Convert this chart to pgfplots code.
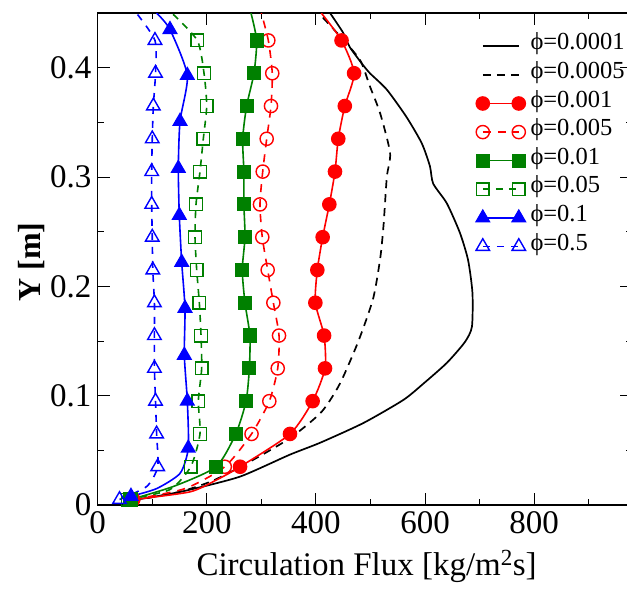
\documentclass[border=0pt]{standalone}
\usepackage{fontspec}
\setmainfont{Liberation Serif}
\usepackage{pgfplots}
\pgfplotsset{compat=1.18}

\definecolor{fred}{RGB}{255,0,0}
\definecolor{fgreen}{RGB}{0,128,0}
\definecolor{fblue}{RGB}{0,0,255}

\begin{document}
\begin{tikzpicture}
\begin{axis}[
  scale only axis,
  width=534.6pt, height=491.9pt,
  xmin=0, xmax=980, ymin=0, ymax=0.45,
  xtick={0,200,400,600,800},
  minor xtick={100,300,500,700,900},
  ytick={0,0.1,0.2,0.3,0.4},
  minor ytick={0.05,0.15,0.25,0.35},
  tick align=inside,
  major tick length=12pt, minor tick length=6pt,
  every tick/.style={black, line width=1pt},
  axis line style={line width=1.5pt},
  /pgf/number format/assume math mode=true,
  tick label style={font=\fontsize{33}{40}\selectfont},
  yticklabel style={anchor=east, inner sep=0pt, xshift=-6pt},
  xticklabel style={anchor=base, inner sep=0pt, yshift=-28pt},
  xlabel={Circulation Flux [kg/m\textsuperscript{2}s]},
  xlabel style={at={(axis description cs:0.503,-0.1423)}, anchor=base,
    inner sep=0pt, font=\fontsize{33}{40}\selectfont},
  ylabel={Y [m]},
  ylabel style={at={(axis description cs:-0.1229,0.494)}, anchor=center,
    font=\fontsize{32}{38}\selectfont\bfseries},
  legend style={draw=none, fill=none, at={(axis description cs:0.7077,0.9616)},
    anchor=north west, inner sep=0pt, outer sep=0pt, row sep=0pt,
    column sep=5pt, font=\fontsize{24.5}{30}\selectfont,
    nodes={inner sep=0pt, text height=18pt, text depth=10.6pt}},
  legend cell align=left,
  legend image code/.code={%
    \draw[#1, mark indices={1,2}] plot coordinates {(0pt,0pt) (36pt,0pt)};},
]

% phi = 0.0001
\addplot[black, line width=1.7pt, smooth, tension=0.4] coordinates {
  (72,0.005) (120,0.009) (169,0.014) (261,0.026) (352,0.046) (408,0.057)
  (487,0.075) (560,0.096) (597,0.111) (640,0.130) (673,0.149) (686,0.163)
  (687,0.194) (679,0.224) (664,0.249) (640,0.276) (615,0.294) (609,0.310)
  (594,0.331) (566,0.355) (530,0.380) (499,0.395) (484,0.404) (462,0.419)
  (450,0.432) (426,0.450)
};
\addlegendentry{ϕ=0.0001}

% phi = 0.0005
\addplot[black, line width=1.7pt, dash pattern=on 8pt off 6pt, smooth, tension=0.4] coordinates {
  (65,0.004) (150,0.012) (210,0.022) (273,0.038) (352,0.061) (410,0.085)
  (444,0.111) (478,0.150) (505,0.189) (518,0.226) (524,0.256) (530,0.300)
  (536,0.322) (518,0.358) (499,0.383) (481,0.407) (444,0.429) (405,0.450)
};
\addlegendentry{ϕ=0.0005}

% phi = 0.001
\addplot[fred, line width=1.6pt, smooth, tension=0.4, mark=*, mark size=6.5pt,
  mark options={solid},
  mark indices={1,4,5,6,7,8,9,10,11,12,13,14,15,16,17}] coordinates {
  (65,0.005) (169,0.012) (218,0.023) (261,0.035) (352.5,0.065) (394,0.095)
  (416.7,0.125) (415,0.155) (399,0.185) (402.6,0.215) (412.4,0.245)
  (424.6,0.275) (435,0.305) (441,0.335) (453,0.365) (470,0.395) (447,0.425)
  (410,0.450)
};
\addlegendentry{ϕ=0.001}

% phi = 0.005
\addplot[fred, line width=1.6pt, dash pattern=on 8pt off 7pt, smooth, tension=0.4,
  mark=o, mark size=6.6pt, mark options={solid, fill=white, line width=1.4pt},
  mark indices={1,3,4,5,6,7,8,9,10,11,12,13,14,15,16}] coordinates {
  (65,0.005) (160,0.015) (233,0.035) (282,0.065) (314.6,0.095) (330,0.125)
  (332.4,0.155) (322,0.185) (311.6,0.215) (301.7,0.245) (297.5,0.275)
  (302.5,0.305) (309.8,0.335) (317.7,0.365) (320,0.395) (312.8,0.425)
  (300,0.450)
};
\addlegendentry{ϕ=0.005}

% phi = 0.01
\addplot[fgreen, line width=1.6pt, smooth, tension=0.4, mark=square*, mark size=6.3pt,
  mark options={solid},
  mark indices={1,3,4,5,6,7,8,9,10,11,12,13,14,15,16}] coordinates {
  (60,0.005) (139,0.017) (217,0.035) (253,0.065) (272,0.095) (278,0.125)
  (279,0.155) (270,0.185) (265,0.215) (270,0.245) (268,0.275) (268,0.305)
  (265.8,0.335) (273,0.365) (286.5,0.395) (291.4,0.425) (281,0.450)
};
\addlegendentry{ϕ=0.01}

% phi = 0.05
\addplot[fgreen, line width=1.6pt, dash pattern=on 7pt off 6pt, smooth, tension=0.4,
  mark=square, mark size=6.3pt, mark options={solid, fill=white, line width=1.4pt},
  mark indices={1,3,4,5,6,7,8,9,10,11,12,13,14,15,16}] coordinates {
  (55,0.005) (132,0.014) (170.5,0.035) (187.5,0.065) (184.5,0.095)
  (190.6,0.125) (189.4,0.155) (186.3,0.185) (181.5,0.215) (178.4,0.245)
  (180.2,0.275) (187.5,0.305) (193.6,0.335) (199.8,0.365) (194.9,0.395)
  (182.6,0.425) (136,0.450)
};
\addlegendentry{ϕ=0.05}

% phi = 0.1
\addplot[fblue, line width=1.6pt, smooth, tension=0.4, mark=triangle*, mark size=7.5pt,
  mark options={solid},
  mark indices={1,4,5,6,7,8,9,10,11,12,13}] coordinates {
  (61,0.008) (108,0.015) (151,0.029) (166,0.052) (164.3,0.095) (158.8,0.137)
  (160,0.180) (154,0.222) (149.6,0.265) (147.8,0.308) (150.9,0.351)
  (164.3,0.393) (132.5,0.435) (108,0.450)
};
\addlegendentry{ϕ=0.1}

% phi = 0.5
\addplot[fblue, line width=1.6pt, dash pattern=on 7pt off 7pt, smooth, tension=0.4,
  mark=triangle, mark size=7.8pt, mark options={solid, fill=white, line width=1.4pt},
  mark indices={1,3,4,5,6,7,8,9,10,11,12,13,14,15,16}] coordinates {
  (40,0.005) (90,0.017) (110,0.035) (108,0.065) (106,0.095) (104,0.125)
  (104,0.155) (104,0.185) (101,0.215) (100,0.245) (99,0.275) (99,0.305)
  (100,0.335) (102,0.365) (106,0.395) (105,0.425) (71,0.450)
};
\addlegendentry{ϕ=0.5}

\end{axis}
\pgfresetboundingbox
\path[use as bounding box] ([shift={(-97.7pt,-85pt)}]current axis.south west)
  rectangle ++(627pt,590pt);
\end{tikzpicture}
\end{document}
